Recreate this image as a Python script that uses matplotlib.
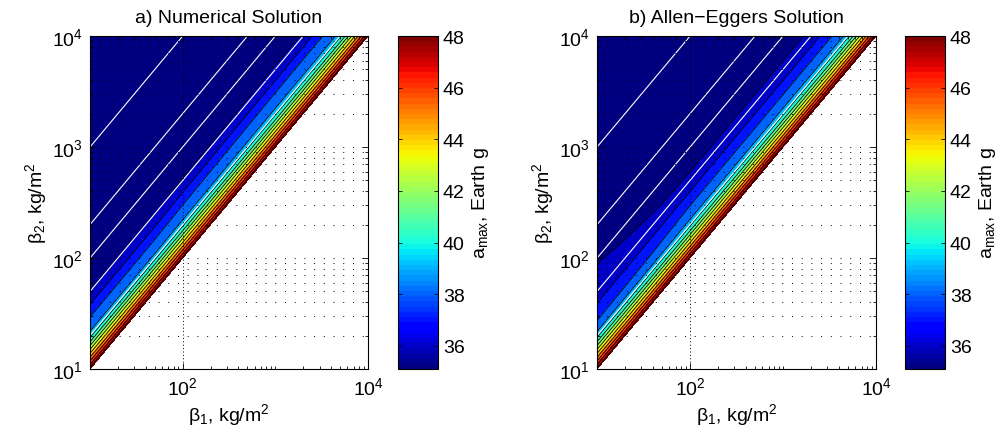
import matplotlib
matplotlib.use('Agg')
import matplotlib.pyplot as plt
import numpy as np
from matplotlib import ticker
from matplotlib.colors import Normalize
from matplotlib.cm import ScalarMappable

plt.rcParams['font.family'] = 'Liberation Sans'
plt.rcParams['mathtext.fontset'] = 'custom'
plt.rcParams['mathtext.rm'] = 'Liberation Sans'
plt.rcParams['mathtext.it'] = 'Liberation Sans:italic'
plt.rcParams['font.size'] = 14

# table columns: beta1 in kg/m^2
beta1_cols = [10, 20, 50, 100, 1000, 10000]
# table rows: log10(beta2 / beta1)
log_ratio_rows = [0.0, 0.05, 0.1, 0.15, 0.2, 0.25, 0.3, 0.35, 0.4, 0.45, 0.5,
                  0.55, 0.6, 0.65, 0.7, 0.8, 0.9, 1.0, 1.2, 1.5, 2.0, 3.0]

# a_max (Earth g): one row per log ratio, one column per beta1
amax_numerical = [
    [48.33, 48.33, 48.33, 48.33, 48.33, 48.33],
    [46.67, 46.67, 46.67, 46.67, 46.67, 46.67],
    [45.14, 45.14, 45.14, 45.14, 45.14, 45.14],
    [43.71, 43.71, 43.71, 43.71, 43.71, 43.71],
    [42.29, 42.29, 42.29, 42.29, 42.29, 42.29],
    [40.86, 40.86, 40.86, 40.86, 40.86, 40.86],
    [39.60, 39.60, 39.60, 39.65, 39.71, 39.71],
    [38.86, 38.86, 38.86, 38.93, 39.00, 39.00],
    [38.50, 38.50, 38.50, 38.57, 38.64, 38.64],
    [38.14, 38.14, 38.14, 38.21, 38.29, 38.29],
    [37.73, 37.73, 37.73, 37.82, 37.91, 37.91],
    [37.27, 37.27, 37.27, 37.36, 37.45, 37.45],
    [36.83, 36.83, 36.83, 36.92, 37.00, 37.00],
    [36.42, 36.42, 36.42, 36.48, 36.55, 36.55],
    [35.99, 35.99, 35.99, 36.04, 36.09, 36.09],
    [35.80, 35.80, 35.80, 35.81, 35.82, 35.82],
    [35.65, 35.65, 35.65, 35.66, 35.67, 35.67],
    [35.55, 35.55, 35.55, 35.55, 35.56, 35.56],
    [35.40, 35.40, 35.40, 35.40, 35.40, 35.40],
    [35.30, 35.30, 35.30, 35.30, 35.30, 35.30],
    [35.20, 35.20, 35.20, 35.20, 35.20, 35.20],
    [35.10, 35.10, 35.10, 35.10, 35.10, 35.10],
]
amax_allen_eggers = [
    [48.33, 48.33, 48.33, 48.33, 48.33, 48.33],
    [46.67, 46.67, 46.67, 46.67, 46.67, 46.67],
    [45.14, 45.14, 45.14, 45.14, 45.14, 45.14],
    [43.71, 43.71, 43.71, 43.71, 43.71, 43.71],
    [42.29, 42.29, 42.29, 42.29, 42.29, 42.29],
    [40.86, 40.86, 40.86, 40.86, 40.86, 40.86],
    [39.60, 39.64, 39.67, 39.71, 39.71, 39.71],
    [38.80, 38.86, 38.91, 39.00, 39.00, 39.00],
    [38.30, 38.38, 38.48, 38.58, 38.58, 38.58],
    [37.87, 37.93, 38.04, 38.17, 38.17, 38.17],
    [37.55, 37.60, 37.68, 37.77, 37.77, 37.77],
    [37.23, 37.27, 37.32, 37.38, 37.38, 37.38],
    [36.96, 36.96, 36.97, 37.00, 37.00, 37.00],
    [36.81, 36.76, 36.70, 36.64, 36.64, 36.64],
    [36.67, 36.56, 36.43, 36.29, 36.29, 36.29],
    [36.38, 36.16, 35.95, 35.90, 35.90, 35.90],
    [36.09, 35.90, 35.80, 35.75, 35.75, 35.75],
    [35.90, 35.80, 35.70, 35.65, 35.65, 35.65],
    [35.65, 35.60, 35.55, 35.50, 35.50, 35.50],
    [35.45, 35.40, 35.40, 35.35, 35.35, 35.35],
    [35.25, 35.20, 35.20, 35.20, 35.20, 35.20],
    [35.10, 35.10, 35.10, 35.10, 35.10, 35.10],
]

# white lines of constant beta2/beta1
ratio_lines = [2, 5, 10, 20, 100]

levels = [35.0, 36, 37, 38, 39, 40, 41, 42, 43, 44, 45, 46, 47, 48, 49]
clim = (35.1, 48.0)
cbar_ticks = [36, 38, 40, 42, 44, 46, 48]

panels = [
    ('a) Numerical Solution', amax_numerical),
    ('b) Allen\u2212Eggers Solution', amax_allen_eggers),
]

cmap = plt.get_cmap('jet', 64)
norm = Normalize(*clim)
# each band takes the colour of its lower level
fill_colors = [cmap(norm(max(lv, clim[0]))) for lv in levels[:-1]]

fig = plt.figure(figsize=(10.08, 4.35), dpi=100)
ax_rects = [[0.0893, 0.1494, 0.2758, 0.7655], [0.5923, 0.1494, 0.2768, 0.7655]]
cb_rects = [[0.3948, 0.1494, 0.0397, 0.7655], [0.8978, 0.1494, 0.0397, 0.7655]]

b1 = np.array(beta1_cols, dtype=float)
lr = np.array(log_ratio_rows)
X = np.tile(b1, (len(lr), 1))
Y = X * 10 ** lr[:, None]

for (title, table), rect, cbrect in zip(panels, ax_rects, cb_rects):
    ax = fig.add_axes(rect)
    Z = np.array(table)
    ax.contourf(X, Y, Z, levels=levels, colors=fill_colors)
    ax.contour(X, Y, Z, levels=levels[1:-1], colors='k', linewidths=0.6)

    line_x = np.array([10.0, 1e4])
    for r in ratio_lines:
        ax.plot(line_x, line_x * r, color='white', lw=0.8)

    ax.set_xscale('log')
    ax.set_yscale('log')
    ax.set_xlim(10, 1e4)
    ax.set_ylim(10, 1e4)

    ax.xaxis.set_major_locator(ticker.FixedLocator([1e2, 1e4]))
    ax.xaxis.set_minor_locator(ticker.LogLocator(subs=np.arange(1, 10), numticks=20))
    ax.yaxis.set_minor_locator(ticker.LogLocator(subs=np.arange(2, 10), numticks=20))
    ax.xaxis.set_minor_formatter(ticker.NullFormatter())
    ax.yaxis.set_minor_formatter(ticker.NullFormatter())
    ax.tick_params(which='both', direction='in', top=True, right=True, width=0.6)
    ax.tick_params(which='major', length=4, labelsize=14, pad=5)
    ax.tick_params(which='minor', length=2)

    ax.set_axisbelow(False)
    ax.grid(True, which='major', axis='x', color='k', ls=(0, (1, 2.5)), lw=0.7)
    ax.grid(True, which='both', axis='y', color='k', ls=(0, (1, 9)), lw=0.7)
    for s in ax.spines.values():
        s.set_linewidth(0.8)

    ax.set_title(title, fontsize=14, pad=10)
    ax.set_xlabel('\u03b2$_1$, kg/m$^2$', fontsize=14, labelpad=2)
    ax.set_ylabel('\u03b2$_2$, kg/m$^2$', fontsize=14, labelpad=2)

    cax = fig.add_axes(cbrect)
    cb = fig.colorbar(ScalarMappable(norm=norm, cmap=cmap), cax=cax, ticks=cbar_ticks)
    cb.outline.set_linewidth(0.8)
    cax.tick_params(direction='in', left=True, right=True, length=3, width=0.6, labelsize=14)
    cb.set_label('a$_{\\mathrm{max}}$, Earth g', fontsize=14, labelpad=4)

fig.savefig('out.png', dpi=100)
